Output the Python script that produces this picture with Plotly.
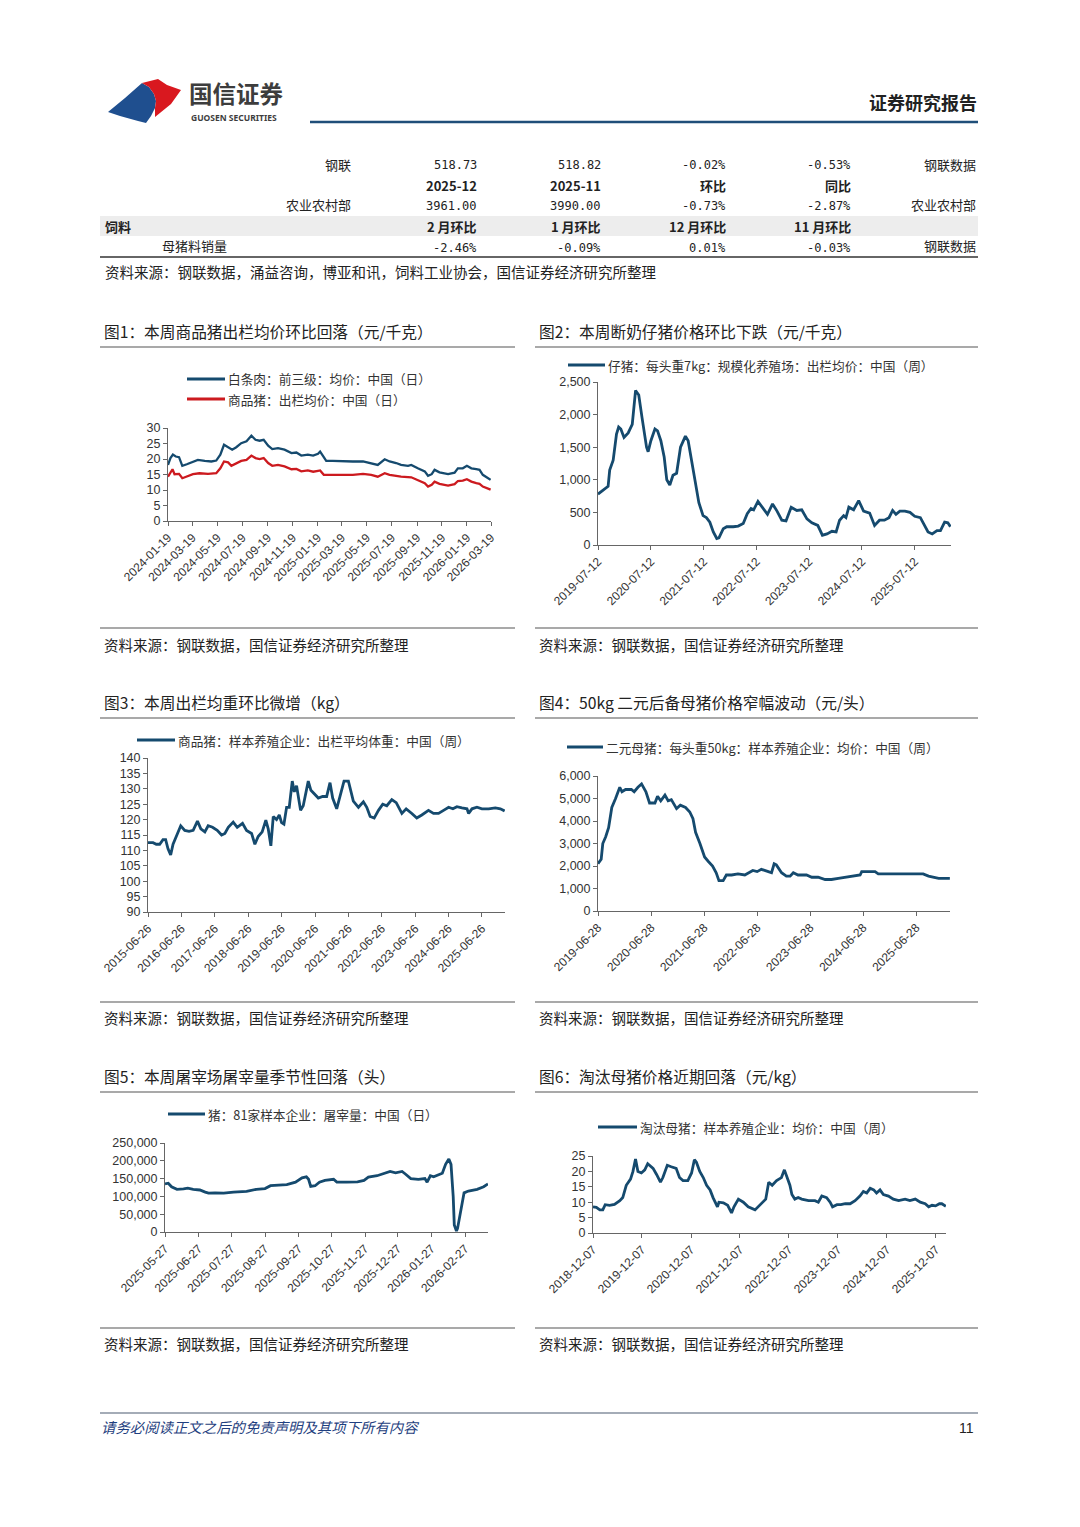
import plotly.graph_objects as go

W, H = 1080, 1527
OFF = 8  # default page margin of the html body
FW, FH = W - 2 * OFF, H - 2 * OFF
def px(x): return (x - OFF) / FW
def py(y): return 1 - (y - OFF) / FH

CN = "Noto Sans CJK SC"
NUMF = "Liberation Sans, Arial"
MONO = "DejaVu Sans Mono"
BLUE = "#154a6e"
RED = "#cc1a1f"

# ---------------- table data ----------------
tbl_row_labels = ["钢联", "", "农业农村部", "饲料", "母猪料销量"]
tbl_col1 = ["518.73", "2025-12", "3961.00", "2 月环比", "-2.46%"]
tbl_col2 = ["518.82", "2025-11", "3990.00", "1 月环比", "-0.09%"]
tbl_col3 = ["-0.02%", "环比", "-0.73%", "12 月环比", "0.01%"]
tbl_col4 = ["-0.53%", "同比", "-2.87%", "11 月环比", "-0.03%"]
tbl_src = ["钢联数据", "", "农业农村部", "", "钢联数据"]

# ---------------- chart 1 ----------------
c1_dates_a = ["2024-01-19","2024-01-25","2024-01-31","2024-02-07","2024-02-15","2024-02-23","2024-03-05","2024-03-20",
              "2024-04-01","2024-04-18","2024-05-04","2024-05-16","2024-05-26","2024-06-04","2024-06-14","2024-06-24",
              "2024-07-04","2024-07-16","2024-07-29","2024-08-10","2024-08-20","2024-08-30","2024-09-09","2024-09-20",
              "2024-09-30","2024-10-14","2024-10-30","2024-11-16","2024-11-28","2024-12-10","2024-12-26","2025-01-08",
              "2025-01-20","2025-01-25","2025-02-01","2025-02-09","2025-02-25","2025-03-22","2025-04-15","2025-05-10",
              "2025-05-30","2025-06-15","2025-07-02","2025-07-14","2025-07-30","2025-08-11","2025-08-28","2025-09-05",
              "2025-09-21","2025-10-08","2025-10-16","2025-10-25","2025-11-01","2025-11-13","2025-12-04","2025-12-20",
              "2025-12-28","2026-01-09","2026-01-19","2026-01-30","2026-02-11","2026-02-19","2026-02-27","2026-03-08",
              "2026-03-18"]
c1_white = [18.1,20.3,21.4,20.8,20.6,17.8,18.3,19.2,19.7,19.4,19.2,19.5,21.4,24.6,23.8,23.0,23.8,25.1,25.7,27.5,
            26.2,25.9,26.2,24.3,23.2,23.5,23.0,21.9,22.1,21.1,21.4,21.1,21.7,22.4,21.0,19.4,19.4,19.2,19.2,19.2,
            18.7,18.1,19.9,19.2,18.7,18.1,17.8,18.1,17.0,16.0,14.6,15.1,16.5,15.7,15.1,15.6,17.0,17.0,17.8,17.0,
            16.7,16.5,14.9,14.1,13.3]
c1_dates_b = ["2024-01-19","2024-01-25","2024-01-30","2024-02-04","2024-02-15","2024-02-23","2024-03-05","2024-03-20",
              "2024-04-05","2024-04-26","2024-05-16","2024-05-26","2024-06-04","2024-06-14","2024-06-22","2024-07-04",
              "2024-07-16","2024-07-29","2024-08-10","2024-08-20","2024-08-30","2024-09-09","2024-09-20","2024-09-30",
              "2024-10-14","2024-10-30","2024-11-16","2024-11-28","2024-12-10","2024-12-26","2025-01-08","2025-01-20",
              "2025-01-25","2025-02-03","2025-02-25","2025-04-15","2025-05-10","2025-05-30","2025-06-15","2025-07-02",
              "2025-07-14","2025-08-11","2025-09-05","2025-09-21","2025-10-08","2025-10-16","2025-10-25","2025-11-01",
              "2025-11-13","2025-12-04","2025-12-20","2025-12-28","2026-01-09","2026-01-19","2026-01-30","2026-02-11",
              "2026-02-19","2026-02-27","2026-03-08","2026-03-18"]
c1_hog = [14.3,15.4,16.7,15.1,15.2,13.8,14.3,15.1,15.4,15.2,15.4,17.0,19.2,18.9,17.8,18.7,19.4,19.7,21.1,20.3,
          20.0,20.3,18.7,17.8,18.1,17.6,16.7,16.8,16.0,16.3,15.9,16.2,16.3,14.9,14.9,14.9,15.2,14.9,14.3,15.4,
          14.9,14.3,14.1,13.3,12.2,11.1,11.7,12.7,12.0,11.4,11.9,12.9,13.0,13.5,12.7,12.2,12.0,11.1,10.6,10.1]
c1_ticks = ["2024-01-19","2024-03-19","2024-05-19","2024-07-19","2024-09-19","2024-11-19","2025-01-19",
            "2025-03-19","2025-05-19","2025-07-19","2025-09-19","2025-11-19","2026-01-19","2026-03-19"]

# ---------------- chart 2 ----------------
c2_dates = ["2019-07-12","2019-09-08","2019-09-20","2019-10-01","2019-10-25","2019-11-17","2019-12-02","2019-12-17",
            "2020-01-08","2020-02-06","2020-03-05","2020-03-28","2020-04-19","2020-05-12","2020-06-12","2020-06-23",
            "2020-07-12","2020-08-09","2020-08-27","2020-09-19","2020-10-12","2020-10-30","2020-11-20","2020-12-12",
            "2021-01-06","2021-02-02","2021-03-08","2021-03-27","2021-04-19","2021-05-12","2021-06-09","2021-07-08",
            "2021-07-31","2021-08-24","2021-09-17","2021-10-11","2021-10-26","2021-11-25","2021-12-19","2022-02-02",
            "2022-03-08","2022-04-12","2022-05-10","2022-06-05","2022-06-23","2022-07-23","2022-08-26","2022-09-27",
            "2022-11-01","2022-12-02","2023-01-04","2023-02-02","2023-03-10","2023-04-18","2023-05-22","2023-06-27",
            "2023-07-31","2023-09-10","2023-10-12","2023-11-13","2023-12-17","2024-01-15","2024-02-08","2024-03-07",
            "2024-03-23","2024-04-12","2024-05-15","2024-06-19","2024-07-23","2024-09-03","2024-10-07","2024-11-10",
            "2024-12-14","2025-01-15","2025-02-09","2025-03-04","2025-03-31","2025-05-05","2025-06-09","2025-07-12",
            "2025-08-20","2025-09-12","2025-10-12","2025-11-10","2025-12-13","2026-01-06","2026-02-04","2026-02-26",
            "2026-03-16"]
c2_piglet = [780,870,900,1150,1300,1700,1810,1780,1650,1720,1850,2370,2300,1950,1500,1430,1600,1780,1750,1600,
             1350,1000,920,1070,1100,1500,1670,1600,1300,1000,650,450,420,350,200,100,110,250,280,280,
             290,330,480,560,540,670,560,470,630,520,380,370,580,530,540,400,340,300,150,170,
             210,200,380,450,420,580,540,680,520,490,300,380,380,420,530,470,520,520,500,440,
             420,330,200,170,220,220,350,340,280]
c2_ticks = ["2019-07-12","2020-07-12","2021-07-12","2022-07-12","2023-07-12","2024-07-12","2025-07-12"]

# ---------------- chart 3 ----------------
c3_dates = ["2015-06-26","2015-08-20","2015-09-25","2015-11-01","2015-12-07","2016-01-05","2016-01-31","2016-02-29",
            "2016-03-26","2016-05-09","2016-06-18","2016-08-01","2016-09-17","2016-11-01","2016-12-18","2017-01-24",
            "2017-03-09","2017-04-14","2017-06-01","2017-07-22","2017-09-08","2017-10-14","2017-11-20","2018-01-13",
            "2018-02-26","2018-04-25","2018-06-08","2018-08-02","2018-09-07","2018-10-13","2018-11-26","2019-01-05",
            "2019-01-31","2019-03-01","2019-03-27","2019-05-02","2019-06-01","2019-06-26","2019-07-22","2019-08-20",
            "2019-09-18","2019-10-21","2019-11-12","2019-12-07","2020-01-02","2020-01-20","2020-02-18","2020-04-13",
            "2020-05-12","2020-06-26","2020-08-01","2020-09-17","2020-10-31","2020-12-07","2021-01-05","2021-02-18",
            "2021-04-03","2021-05-09","2021-06-26","2021-07-21","2021-08-19","2021-10-14","2021-12-07","2022-01-13",
            "2022-02-19","2022-04-04","2022-05-21","2022-07-07","2022-08-20","2022-10-14","2022-12-01","2023-02-01",
            "2023-03-20","2023-05-21","2023-07-14","2023-09-07","2023-11-19","2024-01-13","2024-03-08","2024-05-02",
            "2024-06-26","2024-08-12","2024-09-25","2024-11-19","2025-01-13","2025-01-31","2025-03-09","2025-05-02",
            "2025-06-26","2025-09-07","2025-11-19","2026-01-13","2026-03-01"]
c3_weight = [112.5,112.5,112.0,112.0,113.5,113.5,110.5,108.5,112.0,115.5,118.0,116.5,116.2,116.5,119.5,117.0,
             116.0,118.0,117.5,116.5,115.0,115.5,117.5,119.2,117.5,118.8,116.5,115.5,112.0,114.5,116.0,119.8,
             117.0,111.5,121.0,120.0,121.5,119.0,118.5,124.0,124.0,132.5,129.0,131.0,126.0,123.0,124.5,132.5,
             129.5,128.0,127.0,127.5,127.5,132.0,127.0,123.5,128.0,132.5,132.5,129.5,126.0,124.0,125.8,124.0,
             121.0,120.5,123.0,125.0,124.5,126.5,125.5,122.0,123.5,122.0,120.5,121.5,123.0,122.0,122.0,123.0,
             124.0,123.5,124.2,123.8,123.5,122.0,123.5,124.0,123.5,123.5,123.8,123.5,122.8]
c3_ticks = ["2015-06-26","2016-06-26","2017-06-26","2018-06-26","2019-06-26","2020-06-26","2021-06-26",
            "2022-06-26","2023-06-26","2024-06-26","2025-06-26"]

# ---------------- chart 4 ----------------
c4_dates = ["2019-06-28","2019-07-20","2019-07-31","2019-08-20","2019-09-09","2019-10-01","2019-10-27","2019-11-25",
            "2019-12-10","2020-01-04","2020-02-13","2020-03-03","2020-03-29","2020-04-23","2020-05-23","2020-06-17",
            "2020-07-24","2020-08-11","2020-09-02","2020-10-01","2020-10-23","2020-11-14","2020-12-20","2021-01-15",
            "2021-02-20","2021-03-21","2021-04-12","2021-04-30","2021-05-30","2021-07-01","2021-07-27","2021-08-25",
            "2021-09-19","2021-10-08","2021-11-06","2021-11-28","2022-01-03","2022-02-16","2022-04-04","2022-05-29",
            "2022-06-28","2022-07-27","2022-09-13","2022-10-05","2022-10-23","2022-11-07","2022-12-13","2023-01-15",
            "2023-02-10","2023-03-04","2023-04-05","2023-06-03","2023-07-09","2023-08-22","2023-10-09","2023-11-22",
            "2024-01-08","2024-02-21","2024-04-20","2024-06-06","2024-06-17","2024-07-31","2024-09-17","2024-10-09",
            "2024-12-17","2025-03-18","2025-06-17","2025-08-14","2025-09-20","2025-11-03","2025-11-29","2026-02-14"]
c4_gilt = [2100,2300,3000,3300,3700,4600,5000,5500,5300,5400,5400,5300,5500,5650,5300,4800,
           4800,5100,4900,5150,4900,4950,4550,4700,4600,4400,4100,3500,3000,2400,2200,2000,
           1700,1350,1350,1600,1600,1650,1600,1800,1750,1850,1750,1700,2100,2050,1700,1550,
           1550,1700,1600,1600,1500,1500,1400,1400,1450,1500,1550,1600,1750,1750,1750,1650,
           1650,1650,1650,1650,1550,1500,1450,1450]
c4_ticks = ["2019-06-28","2020-06-28","2021-06-28","2022-06-28","2023-06-28","2024-06-28","2025-06-28"]

# ---------------- chart 5 ----------------
c5_dates = ["2025-05-27","2025-05-30","2025-06-02","2025-06-07","2025-06-13","2025-06-17","2025-06-22","2025-06-28",
            "2025-07-03","2025-07-06","2025-07-12","2025-07-20","2025-07-29","2025-08-10","2025-08-19","2025-08-27",
            "2025-09-01","2025-09-07","2025-09-16","2025-09-24","2025-09-30","2025-10-04","2025-10-06","2025-10-08",
            "2025-10-12","2025-10-16","2025-10-21","2025-10-29","2025-11-01","2025-11-10","2025-11-20","2025-11-26",
            "2025-11-30","2025-12-08","2025-12-14","2025-12-20","2025-12-25","2025-12-31","2026-01-03","2026-01-08",
            "2026-01-15","2026-01-21","2026-01-23","2026-01-26","2026-01-29","2026-02-03","2026-02-06","2026-02-09",
            "2026-02-12","2026-02-14","2026-02-16","2026-02-17","2026-02-19","2026-02-20","2026-02-23","2026-02-26",
            "2026-03-02","2026-03-10","2026-03-16","2026-03-20"]
c5_slaughter = [135000,137000,127000,120000,121000,123000,120000,118000,112000,109000,110000,109000,112000,114000,
                120000,122000,130000,131000,133000,140000,152000,155000,148000,128000,130000,140000,145000,148000,
                140000,140000,141000,145000,154000,158000,165000,170000,166000,170000,163000,150000,148000,150000,
                140000,158000,155000,162000,165000,190000,205000,190000,100000,20000,3000,10000,60000,110000,
                115000,120000,127000,135000]
c5_ticks = ["2025-05-27","2025-06-27","2025-07-27","2025-08-27","2025-09-27","2025-10-27","2025-11-27",
            "2025-12-27","2026-01-27","2026-02-27"]

# ---------------- chart 6 ----------------
c6_dates = ["2018-12-07","2019-01-01","2019-01-27","2019-02-18","2019-03-08","2019-04-10","2019-05-16","2019-06-25",
            "2019-07-17","2019-08-12","2019-09-13","2019-10-01","2019-10-20","2019-11-07","2019-12-03","2019-12-28",
            "2020-01-19","2020-02-28","2020-03-25","2020-04-23","2020-05-11","2020-06-13","2020-07-12","2020-08-18",
            "2020-09-12","2020-10-08","2020-11-13","2020-12-11","2021-01-01","2021-01-16","2021-02-10","2021-03-08",
            "2021-04-02","2021-04-28","2021-05-20","2021-06-22","2021-07-03","2021-08-05","2021-09-06","2021-10-05",
            "2021-10-23","2021-11-25","2022-01-01","2022-02-06","2022-03-29","2022-04-19","2022-05-30","2022-06-17",
            "2022-07-09","2022-08-04","2022-09-06","2022-10-12","2022-11-03","2022-11-26","2022-12-14","2022-12-29",
            "2023-01-20","2023-02-14","2023-03-12","2023-05-02","2023-06-19","2023-07-14","2023-08-09","2023-09-14",
            "2023-10-10","2023-10-28","2023-11-30","2023-12-29","2024-01-31","2024-03-07","2024-04-13","2024-05-19",
            "2024-06-14","2024-07-09","2024-08-04","2024-08-30","2024-09-20","2024-10-16","2024-11-10","2024-12-18",
            "2025-01-23","2025-03-04","2025-04-21","2025-05-27","2025-07-06","2025-08-12","2025-09-18","2025-10-14",
            "2025-11-08","2025-12-04","2026-01-02","2026-01-20","2026-02-19"]
c6_cull = [8.5,8.3,7.5,7.5,9.2,9.0,9.3,10.5,11.5,15.5,17.5,20.0,24.0,20.0,19.5,20.5,
           22.5,21.0,19.0,16.5,18.0,22.0,21.5,21.0,18.0,17.0,17.0,19.5,23.8,23.0,20.0,18.0,
           15.5,14.0,11.5,8.5,10.0,9.8,9.0,6.5,8.5,11.0,10.0,8.5,7.5,8.5,10.5,11.0,
           16.5,15.5,17.0,18.0,20.5,18.0,15.5,12.5,11.0,11.5,11.0,10.5,10.5,10.0,12.0,11.5,
           10.0,8.5,9.2,9.2,9.5,9.5,10.5,12.0,13.5,13.0,14.5,14.0,13.0,14.0,12.5,12.0,
           11.0,10.5,11.0,10.5,11.0,10.0,9.5,8.5,9.0,8.8,9.5,9.5,8.7]
c6_ticks = ["2018-12-07","2019-12-07","2020-12-07","2021-12-07","2022-12-07","2023-12-07","2024-12-07","2025-12-07"]

fig = go.Figure()
shapes = []
annos = []

def text(x, y, s, size=13, color="#222", xanchor="left", family=CN, yanchor="middle"):
    annos.append(dict(x=px(x), y=py(y), xref="paper", yref="paper", text=s, showarrow=False,
                      xanchor=xanchor, yanchor=yanchor, borderpad=0,
                      font=dict(size=size, color=color, family=family)))

def hline(x0, x1, y, color="#444", width=1):
    shapes.append(dict(type="line", xref="paper", yref="paper", x0=px(x0), x1=px(x1), y0=py(y), y1=py(y),
                       line=dict(color=color, width=width)))

# ---------------- header ----------------
def P(pts):
    return "M " + " L ".join(f"{px(a)},{py(b)}" for a, b in pts) + " Z"
shapes.append(dict(type="path", xref="paper", yref="paper",
                   path=P([(108,112),(125,98),(142,83),(149,87),(154,94),(156,101),(155,108),(151,116),(146,123),(138,121),(120,116)]),
                   fillcolor="#1f4f8f", line=dict(width=0)))
shapes.append(dict(type="path", xref="paper", yref="paper",
                   path=P([(142,83),(158,79),(167,85),(181,90),(171,104),(155,117),(155,108),(156,101),(154,94),(149,87)]),
                   fillcolor="#d9181f", line=dict(width=0)))
text(188, 93.5, "<b>国信证券</b>", size=23.5, color="#3d3d3d")
text(190, 117, "<b>GUOSEN SECURITIES</b>", size=8.5, color="#3d3d3d", family="Noto Sans")
text(978, 102, "<b>证券研究报告</b>", size=18, color="#222", xanchor="right")
hline(310, 978, 122, color="#1f4e79", width=2.5)

# ---------------- table ----------------
row_y = [164, 185, 205, 226, 246]
shapes.append(dict(type="rect", xref="paper", yref="paper", x0=px(100), x1=px(978), y0=py(216), y1=py(236),
                   fillcolor="#ededed", line=dict(width=0), layer="below"))
col_x = [478, 602, 727, 852]
for i, yy in enumerate(row_y):
    lab = tbl_row_labels[i]
    bold = i in (1, 3)
    if lab:
        if i == 3:
            text(104, yy, "<b>" + lab + "</b>", size=13)
        elif i == 4:
            text(228, yy, lab, size=13, xanchor="right")
        else:
            text(352, yy, lab, size=13, xanchor="right")
    for cx, col in zip(col_x, [tbl_col1, tbl_col2, tbl_col3, tbl_col4]):
        v = col[i]
        if bold:
            text(cx, yy, "<b>" + v + "</b>", size=13, xanchor="right")
        else:
            text(cx, yy + 1.5, v, size=12, xanchor="right", family=MONO)
    if tbl_src[i]:
        text(977, yy, tbl_src[i], size=13, xanchor="right")
hline(100, 978, 257, color="#333", width=1.5)
text(104, 272, "资料来源：钢联数据，涌益咨询，博亚和讯，饲料工业协会，国信证券经济研究所整理", size=14.5)

# ---------------- chart frames ----------------
frames = [
    (100, 515, 331, 347, 628, 644, "图1：本周商品猪出栏均价环比回落（元/千克）"),
    (535, 978, 331, 347, 628, 644, "图2：本周断奶仔猪价格环比下跌（元/千克）"),
    (100, 515, 702, 718, 1002, 1018, "图3：本周出栏均重环比微增（kg）"),
    (535, 978, 702, 718, 1002, 1018, "图4：50kg 二元后备母猪价格窄幅波动（元/头）"),
    (100, 515, 1076, 1092, 1328, 1343, "图5：本周屠宰场屠宰量季节性回落（头）"),
    (535, 978, 1076, 1092, 1328, 1343, "图6：淘汰母猪价格近期回落（元/kg）"),
]
for x0, x1, ty, l1, l2, sy, title in frames:
    text(x0 + 3, ty, title, size=15.7)
    hline(x0, x1, l1, color="#555", width=1.2)
    hline(x0, x1, l2, color="#555", width=1.2)
    text(x0 + 3, sy, "资料来源：钢联数据，国信证券经济研究所整理", size=14.5)

# ---------------- footer ----------------
hline(100, 978, 1413, color="#4a5a70", width=1.2)
text(100, 1426, "<i>请务必阅读正文之后的免责声明及其项下所有内容</i>", size=14.4, color="#1f3f80")
text(975, 1428, "11", size=14, color="#222", xanchor="right", family=NUMF)

# ---------------- charts ----------------
charts = [
    (1, (168, 491), (428, 521), [0, 30], 5, ["2024-01-19", "2026-03-19"], c1_ticks, None),
    (2, (598, 951), (382, 545), [0, 2500], 500, ["2019-07-12", "2026-03-20"], c2_ticks, ",d"),
    (3, (148, 505), (758, 912), [90, 140], 5, ["2015-06-26", "2026-03-05"], c3_ticks, None),
    (4, (598, 950), (776, 911), [0, 6000], 1000, ["2019-06-28", "2026-02-15"], c4_ticks, ",d"),
    (5, (165, 488), (1143, 1232), [0, 250000], 50000, ["2025-05-27", "2026-03-20"], c5_ticks, ",d"),
    (6, (593, 946), (1156, 1233), [0, 25], 5, ["2018-12-07", "2026-02-20"], c6_ticks, None),
]
layout_axes = {}
for idx, (xa, xb), (yt, yb), yr, dt, xr, ticks, fmt in charts:
    sx = "" if idx == 1 else str(idx)
    layout_axes["xaxis" + sx] = dict(
        domain=[px(xa), px(xb)], anchor="y" + sx, type="date", range=xr, automargin=False,
        tickmode="array", tickvals=ticks, ticktext=ticks, tickangle=-45,
        showline=True, linecolor="#666", linewidth=1, ticks="outside", ticklen=4, tickcolor="#666",
        showgrid=False, zeroline=False, tickfont=dict(size=12, family=NUMF, color="#333"))
    yd = dict(domain=[py(yb), py(yt)], anchor="x" + sx, range=yr, dtick=dt, tick0=0, automargin=False,
              showline=True, linecolor="#666", linewidth=1, ticks="outside", ticklen=4, tickcolor="#666",
              showgrid=False, zeroline=False, tickfont=dict(size=12.5, family=NUMF, color="#333"))
    if fmt:
        yd["tickformat"] = fmt
    layout_axes["yaxis" + sx] = yd

series = [
    (1, c1_dates_a, c1_white, BLUE, 2.3),
    (1, c1_dates_b, c1_hog, RED, 2.3),
    (2, c2_dates, c2_piglet, BLUE, 2.8),
    (3, c3_dates, c3_weight, BLUE, 2.8),
    (4, c4_dates, c4_gilt, BLUE, 2.8),
    (5, c5_dates, c5_slaughter, BLUE, 2.8),
    (6, c6_dates, c6_cull, BLUE, 2.8),
]
for idx, xs, ys, col, lw in series:
    sx = "" if idx == 1 else str(idx)
    fig.add_trace(go.Scatter(x=xs, y=ys, mode="lines", line=dict(color=col, width=lw),
                             xaxis="x" + sx, yaxis="y" + sx, showlegend=False, cliponaxis=False))

legends = [
    (187, 225, 379, BLUE, "白条肉：前三级：均价：中国（日）"),
    (187, 225, 399, RED, "商品猪：出栏均价：中国（日）"),
    (568, 605, 365, BLUE, "仔猪：每头重7kg：规模化养殖场：出栏均价：中国（周）"),
    (137, 175, 740, BLUE, "商品猪：样本养殖企业：出栏平均体重：中国（周）"),
    (567, 603, 747, BLUE, "二元母猪：每头重50kg：样本养殖企业：均价：中国（周）"),
    (168, 205, 1114, BLUE, "猪：81家样本企业：屠宰量：中国（日）"),
    (598, 637, 1127, BLUE, "淘汰母猪：样本养殖企业：均价：中国（周）"),
]
for x0, x1, yy, col, lab in legends:
    hline(x0, x1, yy, color=col, width=3)
    text(x1 + 2, yy, lab, size=12.7, color="#333")

fig.update_layout(template="none", width=FW, height=FH, margin=dict(l=0, r=0, t=0, b=0, pad=0),
                  paper_bgcolor="white", plot_bgcolor="white", showlegend=False,
                  shapes=shapes, annotations=annos, **layout_axes)
fig.write_html("out.html")
